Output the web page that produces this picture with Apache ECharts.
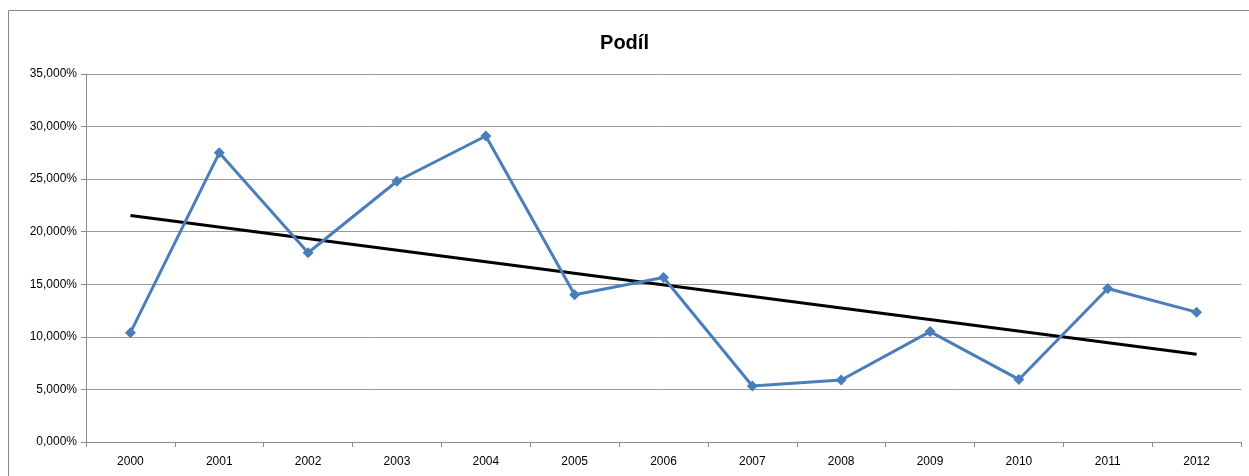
<!DOCTYPE html>
<html>
<head>
<meta charset="utf-8">
<script src="https://cdn.jsdelivr.net/npm/echarts@6/dist/echarts.min.js"></script>
<style>
  html, body { margin: 0; padding: 0; background: #fff; }
  #chart { width: 1249px; height: 476px; }
</style>
</head>
<body>
<div id="chart"></div>
<script>
var years = ['2000','2001','2002','2003','2004','2005','2006','2007','2008','2009','2010','2011','2012'];
var podil = [10.4, 27.5, 18.0, 24.8, 29.1, 14.0, 15.65, 5.33, 5.9, 10.5, 5.95, 14.6, 12.35];
// trend line endpoints (first and last year)
var trendEnds = [['2000', 21.55], ['2012', 8.35]];

var myChart = echarts.init(document.getElementById('chart'));
var fontFam = '"Liberation Sans", "DejaVu Sans", sans-serif';

var option = {
  animation: false,
  graphic: [{
    type: 'rect',
    shape: { x: 8.5, y: 10.5, width: 1260, height: 480 },
    style: { fill: 'none', stroke: '#8c8c8c', lineWidth: 1 }
  }],
  title: {
    text: 'Podíl',
    left: 'center',
    top: 28,
    textStyle: { fontFamily: fontFam, fontSize: 20, fontWeight: 'bold', color: '#000' }
  },
  grid: { left: 86, right: 8, top: 74, bottom: 34 },
  xAxis: {
    type: 'category',
    data: years,
    boundaryGap: true,
    axisLine: { lineStyle: { color: '#8c8c8c', width: 1 } },
    axisTick: { show: true, length: 5, lineStyle: { color: '#8c8c8c' } },
    axisLabel: { color: '#000', fontFamily: fontFam, fontSize: 12, margin: 14 },
    splitLine: { show: false }
  },
  yAxis: {
    type: 'value',
    min: 0,
    max: 35,
    interval: 5,
    axisLine: { show: true, lineStyle: { color: '#8c8c8c', width: 1 } },
    axisTick: { show: true, length: 5, lineStyle: { color: '#8c8c8c' } },
    axisLabel: {
      color: '#000', fontFamily: fontFam, fontSize: 12, margin: 9,
      formatter: function (v) { return v.toFixed(3).replace('.', ',') + '%'; }
    },
    splitLine: { lineStyle: { color: '#999', width: 1 } }
  },
  series: [
    {
      name: 'Podíl',
      type: 'line',
      data: podil,
      symbol: 'diamond',
      symbolSize: 11,
      lineStyle: { color: '#4a7ebb', width: 3 },
      itemStyle: { color: '#4a7ebb' },
      z: 3
    },
    {
      name: 'Trend',
      type: 'line',
      data: trendEnds,
      symbol: 'none',
      lineStyle: { color: '#000', width: 3 },
      z: 2
    }
  ]
};

myChart.setOption(option);
window.addEventListener('resize', function () { myChart.resize(); });
</script>
</body>
</html>
